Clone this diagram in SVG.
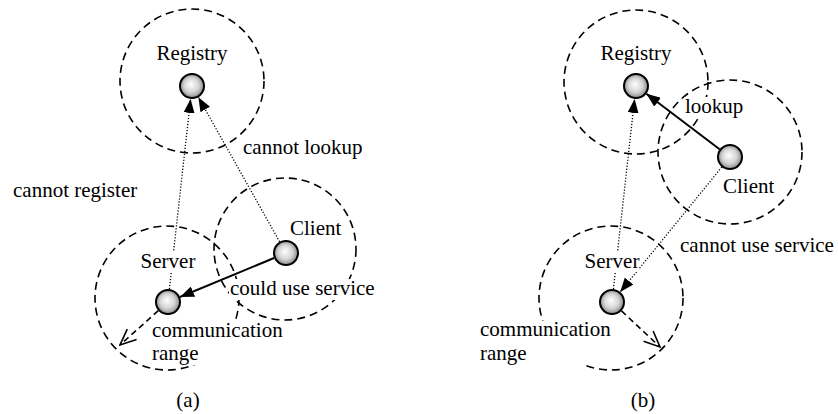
<svg xmlns="http://www.w3.org/2000/svg" width="838" height="414" viewBox="0 0 838 414" font-family="'Liberation Serif', 'Times New Roman', serif">
  <style>
    text { font-family: "Liberation Serif", "Times New Roman", serif; font-size: 21px; fill: #000; }
    .mid { text-anchor: middle; }
    .range { fill: none; stroke: #000; stroke-width: 1.6; stroke-dasharray: 8 5; }
    .dot { fill: url(#ball); stroke: #000; stroke-width: 2; }
    .bg { fill: #fff; stroke: none; }
    .solid { fill: none; stroke: #000; stroke-width: 2; }
    .dotted { fill: none; stroke: #000; stroke-width: 1.3; stroke-dasharray: 1.2 1.8; }
    .dashed { fill: none; stroke: #000; stroke-width: 1.6; stroke-dasharray: 6 4; }
  </style>
  <defs>
    <radialGradient id="ball" cx="50%" cy="50%" r="55%" fx="45%" fy="42%">
      <stop offset="0" stop-color="#ffffff"/>
      <stop offset="0.55" stop-color="#d4d4d4"/>
      <stop offset="1" stop-color="#7a7a7a"/>
    </radialGradient>
    <marker id="head" viewBox="0 0 14 11" refX="14" refY="5.5" markerWidth="14" markerHeight="11" markerUnits="userSpaceOnUse" orient="auto">
      <path d="M0,0 L14,5.5 L0,11 z" fill="#000"/>
    </marker>
    <marker id="open" viewBox="-1 -1 18 16" refX="16" refY="7" markerWidth="18" markerHeight="16" markerUnits="userSpaceOnUse" orient="auto">
      <path d="M0,0 L16,7 L0,14" fill="none" stroke="#000" stroke-width="1.6"/>
    </marker>
  </defs>

  <!-- ===== (a) ===== -->
  <g id="registry-a">
    <circle class="range" cx="192" cy="81" r="72"/>
    <text class="mid" x="192" y="60">Registry</text>
  </g>
  <g id="client-a">
    <circle class="range" cx="285" cy="249" r="71"/>
    <text x="290" y="235">Client</text>
  </g>
  <g id="server-a">
    <circle class="range" cx="167" cy="298" r="72"/>
  </g>

  <g id="connectors-a">
    <line class="dotted" x1="169.4" y1="289.1" x2="190.6" y2="98.9" marker-end="url(#head)"/>
    <line class="dotted" x1="279.6" y1="241.7" x2="198.4" y2="97.3" marker-end="url(#head)"/>
    <line class="solid" x1="274" y1="258" x2="180" y2="297" marker-end="url(#head)"/>
    <line class="dashed" x1="158.3" y1="310.7" x2="120" y2="345" marker-end="url(#open)"/>
  </g>

  <g id="labels-a">
    <text x="243" y="154">cannot lookup</text>
    <text x="13" y="197">cannot register</text>
    <rect class="bg" x="142" y="252" width="53" height="20"/>
    <text class="mid" x="168" y="268">Server</text>
    <rect class="bg" x="229" y="279" width="148" height="21"/>
    <text x="230" y="295">could use service</text>
    <rect class="bg" x="151" y="321" width="134" height="44"/>
    <text x="152" y="337">communication</text>
    <text x="152" y="360">range</text>
    <text class="mid" x="188" y="407">(a)</text>
  </g>

  <g id="nodes-a">
    <circle id="registry-a-node" class="dot" cx="192" cy="86" r="12"/>
    <circle id="client-a-node" class="dot" cx="286" cy="253" r="12"/>
    <circle id="server-a-node" class="dot" cx="168" cy="302" r="12"/>
  </g>

  <!-- ===== (b) ===== -->
  <g id="registry-b">
    <circle class="range" cx="636" cy="82" r="72"/>
    <text class="mid" x="636" y="60">Registry</text>
  </g>
  <g id="client-b">
    <circle class="range" cx="730" cy="152" r="72"/>
    <text x="723" y="193">Client</text>
  </g>
  <g id="server-b">
    <circle class="range" cx="611" cy="298" r="72"/>
  </g>

  <g id="connectors-b">
    <line class="dotted" x1="613.4" y1="289.1" x2="634.6" y2="98.9" marker-end="url(#head)"/>
    <line class="solid" x1="719.6" y1="149.2" x2="646.4" y2="93.8" marker-end="url(#head)"/>
    <line class="dotted" x1="721.8" y1="167.1" x2="620.2" y2="291.9" marker-end="url(#head)"/>
    <line class="dashed" x1="621.5" y1="310.9" x2="660" y2="347" marker-end="url(#open)"/>
  </g>

  <g id="labels-b">
    <rect class="bg" x="684" y="97" width="62" height="21"/>
    <text x="685" y="113">lookup</text>
    <text x="680" y="252">cannot use service</text>
    <rect class="bg" x="586" y="252" width="53" height="20"/>
    <text class="mid" x="612" y="268">Server</text>
    <rect class="bg" x="479" y="321" width="134" height="44"/>
    <text x="480" y="336">communication</text>
    <text x="480" y="360">range</text>
    <text class="mid" x="643" y="407">(b)</text>
  </g>

  <g id="nodes-b">
    <circle id="registry-b-node" class="dot" cx="636" cy="86" r="12"/>
    <circle id="client-b-node" class="dot" cx="730" cy="157" r="12"/>
    <circle id="server-b-node" class="dot" cx="612" cy="302" r="12"/>
  </g>
</svg>
